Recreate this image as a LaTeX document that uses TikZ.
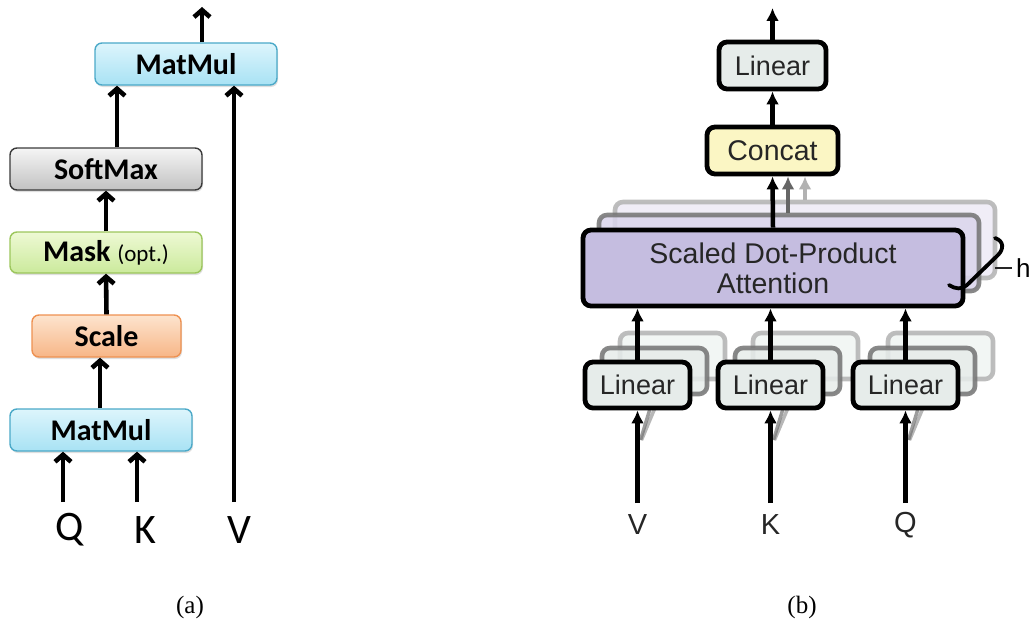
\documentclass[tikz,border=0pt]{standalone}
\usepackage{fontspec}
\setmainfont{Liberation Serif}
\newfontfamily\calibri{Carlito}
\newfontfamily\helv{Liberation Sans}
\usetikzlibrary{arrows.meta,shadows,calc}

\definecolor{mmtop}{HTML}{DDF5FC}
\definecolor{mmbot}{HTML}{A8E2F4}
\definecolor{mmedge}{HTML}{4BA9C8}
\definecolor{smtop}{HTML}{F5F5F5}
\definecolor{smbot}{HTML}{C2C2C2}
\definecolor{smedge}{HTML}{3A3A3A}
\definecolor{mktop}{HTML}{EEF9D4}
\definecolor{mkbot}{HTML}{CBEA9C}
\definecolor{mkedge}{HTML}{9CC65C}
\definecolor{sctop}{HTML}{FDE4CE}
\definecolor{scbot}{HTML}{F7B687}
\definecolor{scedge}{HTML}{EE9151}
\definecolor{linfill}{HTML}{E6ECEA}
\definecolor{catfill}{HTML}{FBF6C4}
\definecolor{attfill}{HTML}{C5BDE0}
\definecolor{attfillb}{HTML}{DAD5EC}
\definecolor{attfillc}{HTML}{EDEAF6}

\tikzset{
  lbox/.style={rounded corners=7pt, line width=1.4pt, minimum height=42pt,
    inner sep=0pt, font=\calibri\bfseries\fontsize{30}{36}\selectfont,
    drop shadow={shadow xshift=1pt, shadow yshift=-2pt, opacity=.25}},
  larrow/.style={line width=4.6pt, -{Straight Barb[length=7pt,width=16pt]}},
  qkv/.style={font=\calibri\fontsize{42}{48}\selectfont, inner sep=0pt},
  rbox/.style={rounded corners=8pt, line width=4.8pt, draw=black, inner sep=0pt,
    font=\helv\fontsize{27}{30}\selectfont, text=black!85},
  ghostb/.style={rounded corners=8pt, line width=4.6pt, draw=black!55, fill=attfillb, opacity=.85},
  ghostc/.style={rounded corners=8pt, line width=4.6pt, draw=black!30, fill=attfillc, opacity=.85},
  rarrow/.style={line width=4.5pt, -{Latex[length=13pt,width=13pt]}},
  rlabel/.style={font=\helv\fontsize{29}{32}\selectfont, inner sep=0pt, text=black!85},
  subcap/.style={font=\fontsize{25}{30}\selectfont, inner sep=0pt}
}

\begin{document}
\begin{tikzpicture}[x=1pt,y=-1pt]
\useasboundingbox (0,0) rectangle (1035,634);

% ---------- (a) scaled dot-product attention ----------
\node[lbox, draw=mmedge, top color=mmtop, bottom color=mmbot, minimum width=182pt] (mmtop) at (186,64) {MatMul};
\node[lbox, draw=smedge, top color=smtop, bottom color=smbot, minimum width=192pt] (soft) at (106,169) {SoftMax};
\node[lbox, draw=mkedge, top color=mktop, bottom color=mkbot, minimum width=192pt, minimum height=41pt] (mask) at (106,252.5)
  {Mask {\mdseries\fontsize{23}{28}\selectfont (opt.)}};
\node[lbox, draw=scedge, top color=sctop, bottom color=scbot, minimum width=149pt] (scale) at (106.5,336) {Scale};
\node[lbox, draw=mmedge, top color=mmtop, bottom color=mmbot, minimum width=182pt] (mmbot) at (101,430) {MatMul};

\coordinate (outA) at (202,7);
\coordinate (qIn) at (63,502);
\coordinate (kIn) at (137,502);
\coordinate (vIn) at (234,502);
\coordinate (softOut) at ($(soft.north)+(11,0)$);
\coordinate (mmOut) at ($(mmbot.north)+(-1,0)$);

\draw[larrow] (mmOut) -- (mmOut |- scale.south);
\draw[larrow] (scale.north) -- (mask.south);
\draw[larrow] (mask.north) -- (soft.south);
\draw[larrow] (softOut) -- (softOut |- mmtop.south);
\draw[larrow] (mmtop.north -| outA) -- (outA);
\draw[larrow] (qIn) -- (qIn |- mmbot.south);
\draw[larrow] (kIn) -- (kIn |- mmbot.south);
\draw[larrow] (vIn) -- (vIn |- mmtop.south);

\node[qkv] (lq) at (70,530) {Q};
\node[qkv] (lk) at (145,530) {K};
\node[qkv] (lv) at (239,530) {V};

% ---------- (b) multi-head attention ----------
% stacked heads behind the front attention block
\node[ghostc, minimum width=380pt, minimum height=76pt] (att3) at (805,240) {};
\node[ghostb, minimum width=380pt, minimum height=76pt] (att2) at (789,253) {};
\node[rbox, fill=attfill, minimum width=380pt, minimum height=76pt, align=center,
      font=\helv\fontsize{28.5}{30}\selectfont] (att) at (773,268)
  {Scaled Dot-Product\\Attention};

\node[rbox, fill=linfill, minimum width=107pt, minimum height=47pt] (linT) at (772.5,65.5) {Linear};
\node[rbox, fill=catfill, minimum width=131pt, minimum height=47pt,
      font=\helv\fontsize{28.5}{30}\selectfont] (cat) at (772.5,150.5) {Concat};

% head outputs into Concat
\coordinate (h3out) at (att3.north -| 805,0);
\coordinate (h2out) at (att2.north -| 788,0);
\draw[line width=4.5pt, black!30, -{Latex[length=13pt,width=13pt]}] (h3out) -- (h3out |- cat.south);
\draw[line width=4.5pt, black!60, -{Latex[length=13pt,width=13pt]}] (h2out) -- (h2out |- cat.south);
\draw[rarrow] (att.north) -- (cat.south);
\draw[rarrow] (cat.north) -- (linT.south);
\coordinate (outB) at (772.5,8);
\draw[rarrow] (linT.north) -- (outB);

% linear projections for V, K, Q
\foreach \n/\cx/\lab in {lv/637.5/V, lk/770.5/K, lq/905.5/Q}{
  \node[ghostc, minimum width=105pt, minimum height=46pt, fill=linfill!60] (\n3) at (\cx+35,356) {};
  \node[ghostb, minimum width=105pt, minimum height=46pt, fill=linfill] (\n2) at (\cx+17,371) {};
  \draw[line width=4.5pt, black!30] ($(\n3.north)+(-5,0)$) -- ($(\n3.north)+(-5,0)$ |- att.south);
  \draw[line width=4.5pt, black!60] ($(\n2.north)+(-2,0)$) -- ($(\n2.north)+(-2,0)$ |- att.south);
  \draw[line width=3.5pt, black!40, opacity=.7] (\cx+4,440) -- (\cx+30,378);
  \draw[line width=3.5pt, black!55, opacity=.7] (\cx+3,440) -- (\cx+17,394);
  \node[rbox, fill=linfill, minimum width=105pt, minimum height=46pt] (\n1) at (\cx,385) {Linear};
  \draw[rarrow] (\n1.north) -- (\n1.north |- att.south);
  \coordinate (\n in) at (\cx,503);
  \draw[rarrow] (\n in) -- (\n1.south);
  \node[rlabel] (\n lab) at (\cx,525) {\lab};
}

% h brace
\draw[line width=3.8pt, line cap=round] (995,238) .. controls (1004,241) and (1004,249) .. (998,255)
  -- (967,285) .. controls (962,290) and (955,289) .. (949,285);
\coordinate (hTick) at (995,268);
\node[font=\helv\fontsize{26}{28}\selectfont, inner sep=0pt, anchor=west] (hlab) at (1016,268) {h};
\draw[line width=2.5pt, black!85] (hTick) -- ($(hlab.west)+(-4,0)$);

% captions
\node[subcap] (capa) at (190,607) {(a)};
\node[subcap] (capb) at (802,607) {(b)};
\end{tikzpicture}
\end{document}
